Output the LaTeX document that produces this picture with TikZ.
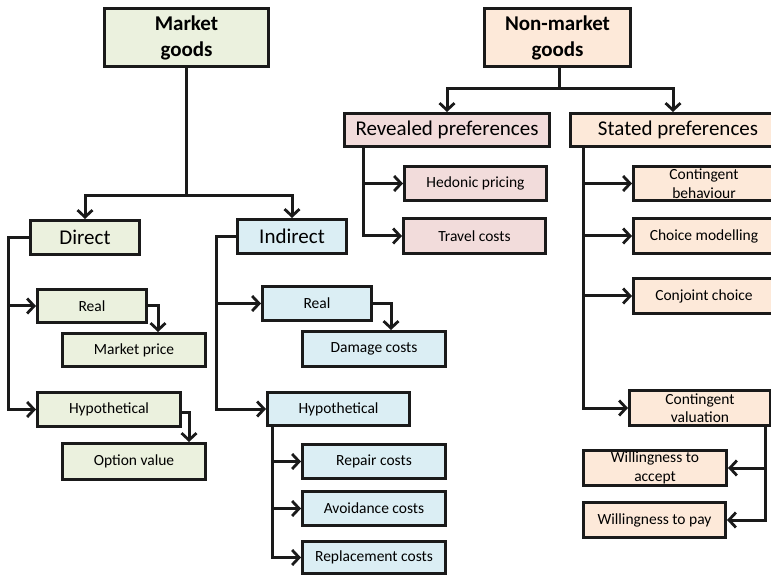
\documentclass[tikz,border=0pt]{standalone}
\usepackage{fontspec}
\setmainfont{Carlito}
\usetikzlibrary{arrows.meta}

\definecolor{linec}{HTML}{1A1A1A}
\definecolor{mkt}{HTML}{EBF1DE}
\definecolor{ind}{HTML}{DBEEF4}
\definecolor{rev}{HTML}{F2DCDB}
\definecolor{sta}{HTML}{FDE9D9}

\tikzset{
  box/.style={draw=linec, line width=3pt, rectangle, inner sep=0pt, align=center},
  titlebox/.style={box, font=\fontsize{21}{26}\selectfont\bfseries},
  midbox/.style={box, font=\fontsize{21}{25}\selectfont},
  smallbox/.style={box, font=\fontsize{15.5}{18.5}\selectfont},
  wire/.style={draw=linec, line width=3pt},
  arr/.style={wire, -{Straight Barb[length=7pt, width=15pt, line width=2.8pt]}},
}

\begin{document}
\begin{tikzpicture}[x=1pt, y=-1pt]
\useasboundingbox (0,0) rectangle (771,577);
\clip (0,0) rectangle (771,577);

% ---------- market goods ----------
\node[titlebox, fill=mkt, minimum width=164pt, minimum height=58pt] (mg) at (186.5,37.5) {Market\\goods};
\node[midbox, fill=mkt, minimum width=109pt, minimum height=34pt] (direct) at (85,237.5) {Direct};
\node[midbox, fill=ind, minimum width=109pt, minimum height=34pt] (indirect) at (292,236.5) {Indirect};

\node[smallbox, fill=mkt, minimum width=109pt, minimum height=33pt] (realD) at (92,306) {Real};
\node[smallbox, fill=mkt, minimum width=143pt, minimum height=33pt] (mprice) at (134,350) {Market price};
\node[smallbox, fill=mkt, minimum width=143pt, minimum height=34pt] (hypoD) at (109,409.5) {Hypothetical};
\node[smallbox, fill=mkt, minimum width=143pt, minimum height=36pt] (optval) at (134,461.5) {Option value};

\node[smallbox, fill=ind, minimum width=109pt, minimum height=34pt] (realI) at (317,303.5) {Real};
\node[smallbox, fill=ind, minimum width=143pt, minimum height=35pt] (damage) at (374,349) {Damage costs};
\node[smallbox, fill=ind, minimum width=142pt, minimum height=33pt] (hypoI) at (338.5,409) {Hypothetical};
\node[smallbox, fill=ind, minimum width=143pt, minimum height=34pt] (repair) at (374,461.5) {Repair costs};
\node[smallbox, fill=ind, minimum width=143pt, minimum height=34pt] (avoid) at (374,508.5) {Avoidance costs};
\node[smallbox, fill=ind, minimum width=143pt, minimum height=32pt] (replace) at (374,557.5) {Replacement costs};

% ---------- non-market goods ----------
\node[titlebox, fill=sta, minimum width=146pt, minimum height=58pt] (nmg) at (557.5,37.5) {Non-market\\goods};
\node[midbox, fill=rev, minimum width=205pt, minimum height=33pt] (revealed) at (447,130) {Revealed preferences};
\node[midbox, fill=sta, minimum width=215pt, minimum height=33pt] (stated) at (678,130) {Stated preferences};

\node[smallbox, fill=rev, minimum width=142pt, minimum height=34pt] (hedonic) at (475.5,183.5) {Hedonic pricing};
\node[smallbox, fill=rev, minimum width=142pt, minimum height=35pt] (travel) at (474.5,236) {Travel costs};

\node[smallbox, fill=sta, minimum width=141pt, minimum height=34pt] (cbeh) at (704,183.5) {Contingent\\behaviour};
\node[smallbox, fill=sta, minimum width=141pt, minimum height=35pt] (cmod) at (704,236) {Choice modelling};
\node[smallbox, fill=sta, minimum width=141pt, minimum height=35pt] (conj) at (704,296) {Conjoint choice};
\node[smallbox, fill=sta, minimum width=141pt, minimum height=35pt] (cval) at (700,408) {Contingent\\valuation};
\node[smallbox, fill=sta, minimum width=143pt, minimum height=35pt] (wta) at (655,468) {Willingness to\\accept};
\node[smallbox, fill=sta, minimum width=142pt, minimum height=35pt] (wtp) at (654.5,520) {Willingness to pay};

% ---------- connectors: market goods ----------
\coordinate (mgj) at (186.5,196);
\draw[wire] (mg.south) -- (mgj);
\draw[arr] (mgj) -| (direct.north);
\draw[arr] (mgj) -| (indirect.north);

\draw[arr] (direct.west) -- ++(-21,0) |- (realD.west);
\draw[arr] (direct.west) -- ++(-21,0) |- (hypoD.west);
\draw[arr] (realD.east) -| ([xshift=97pt]mprice.north west);
\draw[arr] ([yshift=-2.5pt]hypoD.east) -| ([xshift=128pt]optval.north west);

\draw[arr] (indirect.west) -- ++(-20,0) |- (realI.west);
\draw[arr] (indirect.west) -- ++(-20,0) |- (hypoI.west);
\draw[arr] (realI.east) -| ([xshift=90pt]damage.north west);
\draw[arr] ([xshift=6pt]hypoI.south west) |- (repair.west);
\draw[arr] ([xshift=6pt]hypoI.south west) |- (avoid.west);
\draw[arr] ([xshift=6pt]hypoI.south west) |- (replace.west);

% ---------- connectors: non-market goods ----------
\coordinate (nmj) at (559,89);
\draw[wire] ([xshift=1.5pt]nmg.south) -- (nmj);
\draw[arr] (nmj) -| (revealed.north);
\draw[arr] (nmj) -| ([xshift=-5pt]stated.north);

\draw[arr] ([xshift=20pt]revealed.south west) |- (hedonic.west);
\draw[arr] ([xshift=20pt]revealed.south west) |- (travel.west);

\draw[arr] ([xshift=14pt]stated.south west) |- (cbeh.west);
\draw[arr] ([xshift=14pt]stated.south west) |- (cmod.west);
\draw[arr] ([xshift=14pt]stated.south west) |- (conj.west);
\draw[arr] ([xshift=14pt]stated.south west) |- (cval.west);

\draw[arr] ([xshift=137pt]cval.south west) |- (wta.east);
\draw[arr] ([xshift=137pt]cval.south west) |- (wtp.east);
\end{tikzpicture}
\end{document}
